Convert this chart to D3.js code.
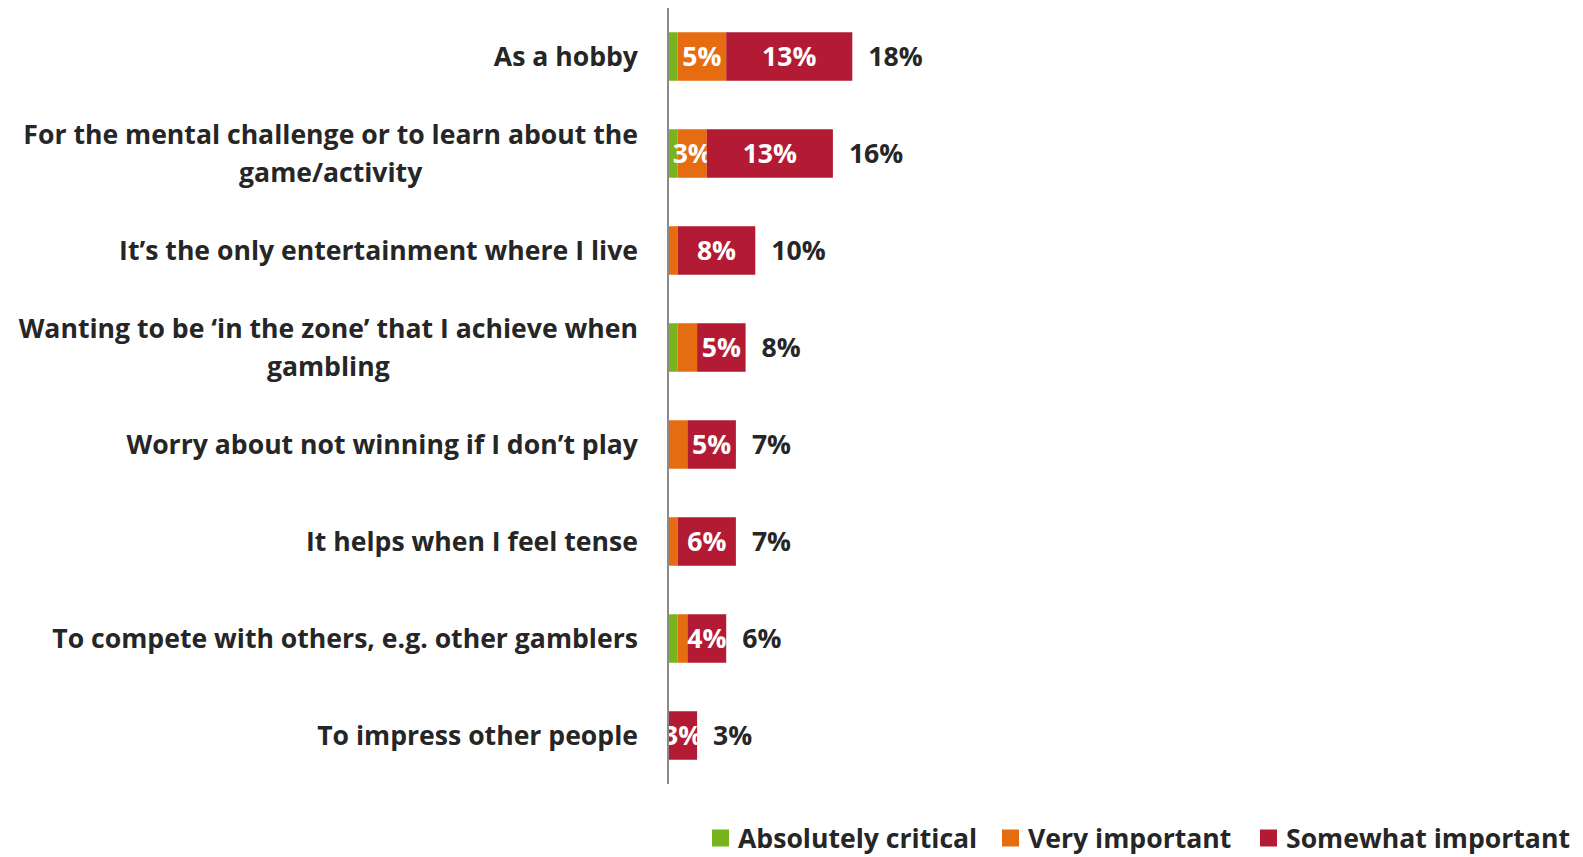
<!DOCTYPE html>
<html>
<head>
<meta charset="utf-8">
<script src="https://cdn.jsdelivr.net/npm/d3@7"></script>
<style>
  html, body { margin: 0; padding: 0; background: #ffffff; }
  svg { display: block; }
  text { font-family: "Open Sans", Lato, sans-serif; font-weight: 700; }
</style>
</head>
<body>
<svg id="chart" width="1583" height="857"></svg>
<script>
// Reasons for gambling, share of respondents by importance
const categories = [
  ["As a hobby"],
  ["For the mental challenge or to learn about the", "game/activity"],
  ["It\u2019s the only entertainment where I live"],
  ["Wanting to be \u2018in the zone\u2019 that I achieve when", "gambling"],
  ["Worry about not winning if I don\u2019t play"],
  ["It helps when I feel tense"],
  ["To compete with others, e.g. other gamblers"],
  ["To impress other people"]
];
const absolutelyCritical = [1, 1, 0, 1, 0, 0, 1, 0];
const veryImportant      = [5, 3, 1, 2, 2, 1, 1, 0];
const somewhatImportant  = [13, 13, 8, 5, 5, 6, 4, 3];
const totalLabels        = [18, 16, 10, 8, 7, 7, 6, 3];
const seriesNames = ["Absolutely critical", "Very important", "Somewhat important"];
const seriesColors = ["#78B41E", "#E66C12", "#B31B34"];

const keys = ["critical", "very", "somewhat"];
const rows = categories.map((c, i) => ({
  idx: i,
  critical: absolutelyCritical[i],
  very: veryImportant[i],
  somewhat: somewhatImportant[i],
  total: totalLabels[i]
}));

const svg = d3.select("#chart");
const textColor = "#262626";
const fontSize = 26.6;

const x = d3.scaleLinear().domain([0, 100]).range([668, 668 + 970]);
const y = d3.scaleBand().domain(d3.range(categories.length))
  .range([8, 784]).paddingInner(0.5).paddingOuter(0.25);
const color = d3.scaleOrdinal().domain(keys).range(seriesColors);

const stacked = d3.stack().keys(keys)(rows);

// stacked segments
const layers = svg.append("g").selectAll("g")
  .data(stacked).join("g")
  .attr("fill", d => color(d.key));

layers.selectAll("rect")
  .data(d => d.map(s => ({ s, key: d.key })))
  .join("rect")
  .attr("x", d => x(d.s[0]))
  .attr("y", d => y(d.s.data.idx))
  .attr("width", d => x(d.s[1]) - x(d.s[0]))
  .attr("height", y.bandwidth());

// segment value labels
layers.selectAll("text")
  .data(d => d.map(s => ({ s, key: d.key })).filter(v => v.s[1] - v.s[0] >= 3))
  .join("text")
  .attr("x", d => (x(d.s[0]) + x(d.s[1])) / 2)
  .attr("y", d => y(d.s.data.idx) + y.bandwidth() / 2)
  .attr("dy", "0.36em")
  .attr("text-anchor", "middle")
  .attr("fill", "#ffffff")
  .attr("font-size", fontSize)
  .text(d => d3.format(".0f")(d.s[1] - d.s[0]) + "%");

// total labels at the end of each bar
svg.append("g").selectAll("text")
  .data(rows).join("text")
  .attr("x", d => x(d.critical + d.very + d.somewhat) + 16)
  .attr("y", d => y(d.idx) + y.bandwidth() / 2)
  .attr("dy", "0.36em")
  .attr("fill", textColor)
  .attr("font-size", fontSize)
  .text(d => d.total + "%");

// vertical category axis line
svg.append("line")
  .attr("x1", x(0)).attr("x2", x(0))
  .attr("y1", y.range()[0]).attr("y2", y.range()[1])
  .attr("stroke", "#8a8a8a").attr("stroke-width", 2);

// category labels (right aligned, multi-line)
const lineGap = 38;
const labels = svg.append("g").selectAll("text")
  .data(categories).join("text")
  .attr("text-anchor", "middle")
  .attr("fill", textColor)
  .attr("font-size", fontSize)
  .attr("y", (d, i) => y(i) + y.bandwidth() / 2);

labels.each(function(lines, i) {
  const t = d3.select(this);
  const n = lines.length;
  lines.forEach((ln, j) => {
    t.append("tspan")
      .attr("y", y(i) + y.bandwidth() / 2 + (j - (n - 1) / 2) * lineGap)
      .attr("dy", "0.36em")
      .text(ln);
  });
});
// right-align block, centre inner lines within the widest line
labels.each(function() {
  const t = d3.select(this);
  const spans = t.selectAll("tspan");
  let maxW = 0;
  spans.each(function() { maxW = Math.max(maxW, this.getComputedTextLength()); });
  const right = 638;
  spans.attr("x", right - maxW / 2);
});

// legend
const legendItems = [
  { name: seriesNames[0], key: "critical", x: 712 },
  { name: seriesNames[1], key: "very", x: 1002 },
  { name: seriesNames[2], key: "somewhat", x: 1260 }
];
const legend = svg.append("g").selectAll("g")
  .data(legendItems).join("g")
  .attr("transform", d => `translate(${d.x},838)`);
legend.append("rect")
  .attr("x", 0).attr("y", -8.5).attr("width", 17).attr("height", 17)
  .attr("fill", d => color(d.key));
legend.append("text")
  .attr("x", 26).attr("dy", "0.36em")
  .attr("fill", textColor)
  .attr("font-size", fontSize)
  .text(d => d.name);
</script>
</body>
</html>
